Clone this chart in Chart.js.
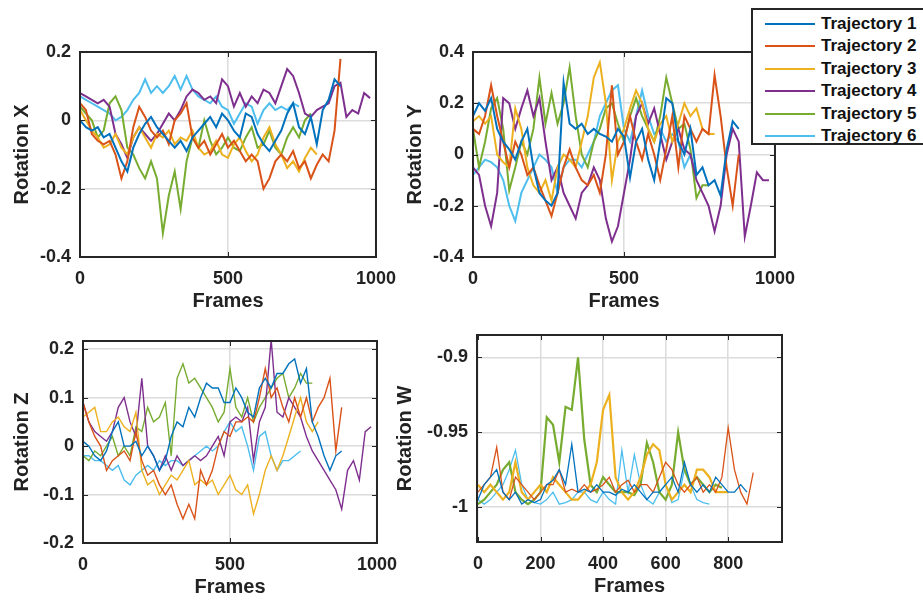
<!DOCTYPE html>
<html>
<head>
<meta charset="utf-8">
<script src="https://cdn.jsdelivr.net/npm/chart.js@4.4.1/dist/chart.umd.min.js"></script>
<style>
  body { margin: 0; background: #fff; width: 923px; height: 600px; overflow: hidden; position: relative;
         font-family: "Liberation Sans", Arial, sans-serif; }
  canvas { position: absolute; }
  #legend { position: absolute; left: 751px; top: 8px; width: 190px; height: 133px; background: #fff;
            border: 2px solid #262626; z-index: 5; }
  #legend .item { position: absolute; left: 12px; height: 20px; }
  #legend .swatch { position: absolute; left: 0; top: 9px; width: 50px; height: 2px; }
  #legend .text { position: absolute; left: 56px; top: 0; font-size: 17px; font-weight: bold; color: #111;
                  line-height: 20px; white-space: nowrap; }
</style>
</head>
<body>
<canvas id="rotX"></canvas>
<canvas id="rotY"></canvas>
<canvas id="rotZ"></canvas>
<canvas id="rotW"></canvas>
<div id="legend"></div>
<script>
// samples every 20 frames
const STEP = 20;
const names = ['Trajectory 1', 'Trajectory 2', 'Trajectory 3', 'Trajectory 4', 'Trajectory 5', 'Trajectory 6'];
const colors = ['#0072BD', '#D95319', '#EDB120', '#7E2F8E', '#77AC30', '#4DBEEE'];

// Rotation X
const rotX1 = [0.00, -0.02, -0.03, -0.02, -0.05, -0.04, -0.08, -0.12, -0.15, -0.08, -0.04, -0.01, 0.01, -0.02, -0.04,
  -0.06, -0.08, -0.06, -0.09, -0.05, -0.03, -0.01, 0.01, -0.02, 0.02, 0.00, -0.03, -0.05, 0.02, 0.01,
  -0.04, -0.07, -0.09, -0.06, -0.03, 0.02, 0.05, -0.02, -0.04, 0.01, -0.07, 0.03, 0.06, 0.12, 0.10];
const rotX2 = [0.05, 0.03, -0.04, -0.06, -0.07, -0.06, -0.10, -0.17, -0.12, -0.02, 0.04, 0.01, -0.03, -0.05, -0.03,
  -0.07, 0.00, 0.02, 0.05, -0.05, -0.08, -0.06, -0.10, -0.07, -0.04, -0.08, -0.06, -0.09, -0.12, -0.10,
  -0.12, -0.20, -0.17, -0.12, -0.10, -0.12, -0.09, -0.14, -0.12, -0.17, -0.13, -0.10, -0.12, -0.03, 0.18];
const rotX3 = [0.03, 0.00, -0.03, -0.05, -0.08, -0.07, -0.04, -0.08, -0.10, -0.05, -0.02, -0.05, -0.08, -0.04, -0.05,
  -0.03, -0.07, -0.05, -0.06, -0.03, -0.08, -0.10, -0.09, -0.06, -0.10, -0.11, -0.07, -0.05, -0.09, -0.12,
  -0.10, -0.05, -0.02, -0.07, -0.10, -0.14, -0.12, -0.15, -0.11, -0.08, -0.10];
const rotX4 = [0.08, 0.07, 0.06, 0.05, 0.06, 0.04, -0.04, -0.07, -0.11, -0.05, -0.02, -0.04, -0.06, -0.04, -0.01,
  0.02, 0.00, 0.03, 0.07, 0.09, 0.08, 0.06, 0.07, 0.05, 0.12, 0.10, 0.04, 0.08, 0.04, 0.07,
  0.05, 0.09, 0.08, 0.05, 0.10, 0.15, 0.13, 0.08, 0.02, 0.01, 0.03, 0.04, 0.05, 0.10, 0.11,
  0.01, 0.03, 0.02, 0.08, 0.065];
const rotX5 = [0.04, 0.02, 0.00, -0.05, -0.03, 0.05, 0.07, 0.03, -0.08, -0.10, -0.14, -0.17, -0.12, -0.17, -0.33,
  -0.22, -0.15, -0.26, -0.12, -0.05, -0.08, 0.00, -0.06, -0.10, -0.08, -0.05, -0.08, -0.09, -0.05, -0.02,
  -0.08, -0.07, -0.03, -0.08, -0.10, -0.05, -0.02, -0.05, 0.00, 0.02];
const rotX6 = [0.07, 0.06, 0.05, 0.04, 0.03, 0.02, 0.00, 0.01, 0.03, 0.06, 0.08, 0.12, 0.08, 0.10, 0.08,
  0.10, 0.13, 0.09, 0.13, 0.09, 0.07, 0.06, 0.05, 0.07, 0.04, 0.03, -0.01, 0.02, 0.05, 0.04,
  -0.01, 0.03, 0.05, 0.03, 0.04, 0.03, 0.05, 0.04];

// Rotation Y
const rotY1 = [0.15, 0.20, 0.17, 0.22, 0.10, 0.05, 0.02, -0.02, 0.05, 0.10, -0.05, -0.15, -0.18, -0.20, -0.15,
  0.28, 0.12, 0.10, 0.12, 0.08, 0.10, 0.08, 0.07, 0.05, 0.10, 0.07, -0.09, 0.05, 0.10, -0.02,
  -0.10, 0.05, 0.22, 0.20, 0.05, 0.00, 0.10, -0.08, -0.05, -0.12, -0.10, -0.16, 0.02, 0.13, 0.10];
const rotY2 = [0.10, 0.08, 0.15, 0.27, 0.15, 0.05, -0.05, 0.05, 0.00, -0.08, -0.05, -0.12, -0.18, -0.24, -0.15,
  -0.05, 0.02, -0.05, -0.10, -0.12, -0.08, -0.15, 0.00, 0.27, 0.00, 0.05, 0.15, 0.05, -0.02, 0.08,
  0.00, -0.10, 0.02, 0.15, -0.05, 0.15, 0.10, 0.05, 0.10, 0.08, 0.31, 0.15, -0.05, -0.20, 0.00];
const rotY3 = [0.13, 0.15, 0.12, 0.15, 0.00, -0.03, -0.05, 0.18, 0.10, -0.05, -0.12, -0.15, -0.10, -0.18, -0.05,
  0.00, -0.02, -0.05, 0.05, 0.15, 0.30, 0.36, 0.20, -0.10, 0.05, 0.10, 0.18, 0.25, 0.20, 0.10,
  0.05, 0.12, 0.15, 0.05, 0.12, 0.20, 0.15, 0.18, 0.10, 0.08, 0.08];
const rotY4 = [-0.05, -0.08, -0.20, -0.28, -0.15, 0.22, 0.20, 0.10, 0.18, 0.25, 0.15, 0.22, 0.05, -0.10, -0.05,
  -0.15, -0.20, -0.25, -0.15, -0.12, -0.05, -0.10, -0.25, -0.34, -0.28, -0.15, -0.02, 0.15, 0.20, 0.12,
  0.18, 0.08, -0.02, 0.05, 0.10, 0.02, 0.00, -0.10, -0.15, -0.20, -0.30, -0.20, 0.00, 0.10, 0.05,
  -0.32, -0.20, -0.07, -0.10, -0.10];
const rotY5 = [0.10, -0.05, 0.05, 0.18, 0.22, 0.10, -0.14, -0.05, 0.05, 0.00, 0.10, 0.30, 0.12, 0.24, 0.12,
  0.20, 0.34, 0.15, 0.00, -0.05, 0.05, 0.10, 0.18, 0.20, 0.12, 0.05, 0.15, 0.22, 0.15, 0.10,
  0.05, 0.15, 0.30, 0.20, 0.10, 0.12, 0.02, -0.17, -0.12, -0.12];
const rotY6 = [-0.08, -0.05, -0.02, -0.03, -0.05, -0.10, -0.20, -0.26, -0.15, -0.10, -0.05, 0.00, -0.02, -0.05, -0.15,
  -0.05, -0.02, -0.02, -0.05, 0.00, 0.05, 0.15, 0.20, 0.25, 0.27, 0.10, 0.05, 0.15, 0.25, 0.15,
  0.08, 0.10, 0.05, 0.08, 0.05, -0.05, 0.00, -0.08];

// Rotation Z
const rotZ1 = [0.01, 0.00, -0.02, -0.03, -0.01, 0.03, 0.05, 0.00, 0.00, 0.01, -0.02, 0.00, -0.02, -0.05, -0.03,
  0.02, 0.05, 0.04, 0.08, 0.06, 0.10, 0.13, 0.12, 0.12, 0.09, 0.09, 0.12, 0.10, 0.07, 0.06,
  0.12, 0.14, 0.12, 0.15, 0.15, 0.17, 0.18, 0.13, 0.16, 0.05, 0.02, -0.02, -0.05, -0.02, -0.01];
const rotZ2 = [0.09, 0.05, 0.02, 0.00, -0.05, -0.03, -0.02, -0.01, -0.03, 0.03, -0.03, -0.06, -0.05, -0.08, -0.10,
  -0.08, -0.12, -0.15, -0.12, -0.15, -0.05, -0.08, -0.05, 0.00, 0.03, 0.02, 0.05, 0.05, 0.06, 0.05,
  0.10, 0.16, 0.10, 0.12, 0.08, 0.05, 0.10, 0.06, 0.10, 0.05, 0.08, 0.10, 0.14, -0.01, 0.08];
const rotZ3 = [0.06, 0.07, 0.08, 0.03, 0.03, 0.05, 0.06, 0.04, 0.03, 0.07, -0.05, -0.08, -0.07, -0.10, -0.08,
  -0.06, -0.07, -0.05, -0.03, -0.08, -0.07, -0.08, -0.07, -0.10, -0.08, -0.06, -0.09, -0.10, -0.08, -0.14,
  -0.10, -0.05, -0.02, -0.05, -0.02, 0.02, 0.06, 0.10, 0.05, 0.03, 0.05];
const rotZ4 = [0.09, 0.05, 0.03, 0.02, 0.01, 0.03, 0.08, 0.10, 0.05, 0.02, 0.14, 0.00, -0.02, -0.05, -0.02,
  -0.05, -0.02, -0.04, -0.03, -0.02, -0.03, -0.02, 0.00, 0.02, -0.02, 0.05, 0.06, 0.05, 0.08, -0.03,
  0.05, 0.08, 0.22, 0.07, 0.06, 0.10, 0.08, 0.06, 0.02, -0.01, -0.03, -0.05, -0.07, -0.09, -0.13,
  -0.05, -0.03, -0.07, 0.03, 0.04];
const rotZ5 = [-0.02, -0.03, -0.01, -0.02, 0.00, 0.02, -0.02, 0.00, -0.02, 0.04, 0.03, 0.08, 0.05, 0.06, 0.09,
  -0.02, 0.14, 0.17, 0.13, 0.14, 0.12, 0.10, 0.08, 0.05, 0.07, 0.16, 0.08, 0.06, 0.10, 0.05,
  0.08, 0.10, 0.12, 0.14, 0.15, 0.10, 0.12, 0.15, 0.13, 0.13];
const rotZ6 = [-0.02, -0.02, -0.03, -0.03, -0.04, -0.05, -0.04, -0.07, -0.08, -0.06, -0.05, -0.04, -0.05, -0.03, -0.04,
  -0.03, -0.03, -0.04, -0.03, -0.02, -0.01, 0.00, -0.01, 0.00, 0.03, 0.05, 0.03, 0.04, 0.00, -0.05,
  0.02, 0.03, -0.02, -0.05, -0.03, -0.03, -0.02, -0.01];

// Rotation W (trajectory 4 is not drawn here)
const rotW1 = [-0.995, -0.985, -0.98, -0.975, -0.99, -0.995, -0.99, -0.998, -0.995, -0.997, -0.995, -0.985, -0.982, -0.975, -0.985,
  -0.958, -0.99, -0.988, -0.99, -0.985, -0.99, -0.99, -0.992, -0.988, -0.99, -0.985, -0.99, -0.995, -0.99, -0.99,
  -0.985, -0.98, -0.99, -0.97, -0.985, -0.99, -0.985, -0.99, -0.98, -0.985, -0.99, -0.99, -0.985, -0.99];
const rotW2 = [-0.99, -0.985, -0.98, -0.96, -0.99, -0.995, -0.98, -0.985, -0.99, -0.995, -0.99, -0.985, -0.985, -0.975, -0.99,
  -0.988, -0.99, -0.985, -0.99, -0.988, -0.985, -0.98, -0.99, -0.985, -0.982, -0.99, -0.985, -0.985, -0.99, -0.98,
  -0.97, -0.975, -0.985, -0.99, -0.985, -0.98, -0.99, -0.985, -0.99, -0.98, -0.947, -0.975, -0.99, -0.998, -0.977];
const rotW3 = [-0.985, -0.99, -0.985, -0.99, -0.995, -0.99, -0.97, -0.99, -0.995, -0.99, -0.985, -0.99, -0.98, -0.985, -0.99,
  -0.995, -0.995, -0.99, -0.985, -0.97, -0.935, -0.925, -0.98, -0.99, -0.995, -0.99, -0.98, -0.965, -0.958, -0.962,
  -0.985, -0.995, -0.99, -0.985, -0.99, -0.975, -0.975, -0.98, -0.99, -0.99, -0.99];
const rotW5 = [-0.998, -0.995, -0.99, -0.985, -0.975, -0.97, -0.99, -0.995, -0.998, -0.995, -0.99, -0.94, -0.945, -0.97, -0.933,
  -0.935, -0.90, -0.955, -0.985, -0.99, -0.98, -0.985, -0.99, -0.99, -0.99, -0.992, -0.985, -0.957, -0.97, -0.99,
  -0.995, -0.985, -0.95, -0.975, -0.985, -0.98, -0.985, -0.99, -0.985, -0.987];
const rotW6 = [-0.995, -0.998, -0.995, -0.99, -0.985, -0.975, -0.962, -0.985, -0.995, -0.997, -0.998, -0.995, -0.99, -0.998, -0.997,
  -0.995, -0.99, -0.99, -0.995, -0.997, -0.99, -0.995, -0.998, -0.962, -0.99, -0.965, -0.985, -0.995, -0.998, -0.99,
  -0.985, -0.997, -0.995, -0.975, -0.985, -0.995, -0.997, -0.998];

const frameTicks = [0, 500, 1000];
const frameTicksW = [0, 200, 400, 600, 800];

function toPoints(vals) {
  return vals.map((v, i) => ({ x: i * STEP, y: v }));
}

function fmt(v) {
  return String(Math.round(v * 1000) / 1000);
}

// axes box and inward tick marks
const boxPlugin = {
  id: 'box',
  afterDraw(chart) {
    const { ctx, chartArea: a, scales } = chart;
    ctx.save();
    ctx.strokeStyle = '#262626';
    ctx.lineWidth = 1;
    ctx.beginPath();
    scales.x.ticks.forEach(t => {
      const p = Math.round(scales.x.getPixelForValue(t.value)) + 0.5;
      ctx.moveTo(p, a.bottom); ctx.lineTo(p, a.bottom - 5);
      ctx.moveTo(p, a.top); ctx.lineTo(p, a.top + 5);
    });
    scales.y.ticks.forEach(t => {
      const p = Math.round(scales.y.getPixelForValue(t.value)) + 0.5;
      ctx.moveTo(a.left, p); ctx.lineTo(a.left + 5, p);
      ctx.moveTo(a.right, p); ctx.lineTo(a.right - 5, p);
    });
    ctx.stroke();
    ctx.lineWidth = 2;
    ctx.strokeRect(a.left, a.top, a.right - a.left, a.bottom - a.top);
    ctx.restore();
  }
};

function panel(id, p) {
  const yw = p.l - p.titleX + 14;
  const left = p.l - yw, top = p.t - 20;
  const cv = document.getElementById(id);
  cv.width = p.r - left + 20;
  cv.height = p.b - top + 62;
  cv.style.left = left + 'px';
  cv.style.top = top + 'px';

  const datasets = [];
  p.series.forEach((vals, i) => {
    if (!vals) return;
    datasets.push({
      label: names[i],
      data: toPoints(vals),
      borderColor: colors[i],
      borderWidth: p.widths[i],
      pointRadius: 0,
      tension: 0,
      fill: false
    });
  });

  const tickFont = { family: '"Liberation Sans", Arial', size: 18, weight: 'bold' };
  const titleFont = { family: '"Liberation Sans", Arial', size: 20, weight: 'bold' };

  new Chart(cv, {
    type: 'line',
    data: { datasets },
    options: {
      responsive: false,
      animation: false,
      events: [],
      layout: { padding: { left: 0, top: 20, right: 20, bottom: 0 } },
      plugins: { legend: { display: false }, tooltip: { enabled: false } },
      scales: {
        x: {
          type: 'linear',
          min: p.xmin, max: p.xmax,
          afterFit: s => { s.height = 62; },
          afterBuildTicks: s => { s.ticks = p.xticks.map(v => ({ value: v })); },
          grid: { color: '#dcdcdc', lineWidth: 1.5, drawTicks: false },
          border: { display: false },
          ticks: { padding: 11, font: tickFont, color: '#222', callback: v => fmt(v) },
          title: { display: true, text: 'Frames', font: titleFont, color: '#222', padding: { top: 0, bottom: 6 } }
        },
        y: {
          min: p.ymin, max: p.ymax,
          afterFit: s => { s.width = yw; },
          afterBuildTicks: s => { s.ticks = p.yticks.map(v => ({ value: v })); },
          grid: { color: '#dcdcdc', lineWidth: 1.5, drawTicks: false },
          border: { display: false },
          ticks: { padding: 9, font: tickFont, color: '#222', callback: v => fmt(v) },
          title: { display: true, text: p.label, font: titleFont, color: '#222', padding: { top: 2, bottom: 0 } }
        }
      }
    },
    plugins: [boxPlugin]
  });
}

panel('rotX', {
  l: 80, t: 52, r: 387, b: 257, titleX: 22, label: 'Rotation X',
  xmin: 0, xmax: 1000, xticks: frameTicks,
  ymin: -0.4, ymax: 0.2, yticks: [-0.4, -0.2, 0, 0.2],
  series: [rotX1, rotX2, rotX3, rotX4, rotX5, rotX6],
  widths: [2, 2, 2, 2, 2, 2]
});

panel('rotY', {
  l: 473, t: 52, r: 786, b: 257, titleX: 415, label: 'Rotation Y',
  xmin: 0, xmax: 1000, xticks: frameTicks,
  ymin: -0.4, ymax: 0.4, yticks: [-0.4, -0.2, 0, 0.2, 0.4],
  series: [rotY1, rotY2, rotY3, rotY4, rotY5, rotY6],
  widths: [2, 2, 2, 2, 2, 2]
});

panel('rotZ', {
  l: 83, t: 341, r: 388, b: 543, titleX: 22, label: 'Rotation Z',
  xmin: 0, xmax: 1000, xticks: frameTicks,
  ymin: -0.2, ymax: 0.217, yticks: [-0.2, -0.1, 0, 0.1, 0.2],
  series: [rotZ1, rotZ2, rotZ3, rotZ4, rotZ5, rotZ6],
  widths: [1.4, 1.4, 1.4, 1.4, 1.4, 1.4]
});

panel('rotW', {
  l: 477, t: 335, r: 782, b: 542, titleX: 405, label: 'Rotation W',
  xmin: -3, xmax: 972, xticks: frameTicksW,
  ymin: -1.0233, ymax: -0.885, yticks: [-1, -0.95, -0.9],
  series: [rotW1, rotW2, rotW3, null, rotW5, rotW6],
  widths: [1.3, 1.3, 2.2, 1.3, 2.2, 1.3]
});

// shared legend
const legend = document.getElementById('legend');
names.forEach((n, i) => {
  const item = document.createElement('div');
  item.className = 'item';
  item.style.top = (4 + i * 22.4) + 'px';
  item.innerHTML = '<div class="swatch" style="background:' + colors[i] + '"></div><div class="text">' + n + '</div>';
  legend.appendChild(item);
});
</script>
</body>
</html>
